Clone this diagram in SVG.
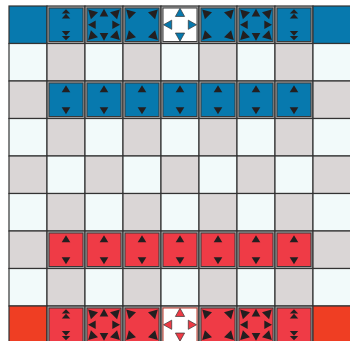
<svg xmlns="http://www.w3.org/2000/svg" xmlns:xlink="http://www.w3.org/1999/xlink" width="350" height="341" viewBox="0 0 350 341">
<style>
.lt{fill:#f2fafa;stroke:#333;stroke-width:1.2}
.gy{fill:#dad6d6;stroke:#333;stroke-width:1.2}
.pc{fill:#b3b3b3;stroke:#333;stroke-width:1.2}
.cb{fill:#0779ae;stroke:#333;stroke-width:1.2}
.cr{fill:#ef3e23;stroke:#333;stroke-width:1.2}
.pb{fill:#0779ae;stroke:#3a3a3a;stroke-width:1}
.pr{fill:#ef3b46;stroke:#3a3a3a;stroke-width:1}
.pw{fill:#ffffff;stroke:#3a3a3a;stroke-width:1}
.pwr{fill:#ffffff;stroke:#c0392b;stroke-width:1}
.ic{fill:#231f20}
.tb{fill:#0779ae;stroke:#333;stroke-width:0.7}
.tr{fill:#ef3b46;stroke:#333;stroke-width:0.7}
</style>
<defs>
<g id="ud" class="ic"><polygon points="0,-14.5 -4.3,-7.5 4.3,-7.5"/><polygon points="0,14.5 -4.3,7.5 4.3,7.5"/></g>
<g id="dbl" class="ic"><polygon points="0,-15.5 -4.2,-11.2 4.2,-11.2"/><polygon points="0,-11 -4.2,-6.3 4.2,-6.3"/><polygon points="0,15.5 -4.2,11.2 4.2,11.2"/><polygon points="0,11 -4.2,6.3 4.2,6.3"/></g>
<g id="crn" class="ic"><polygon points="-15.8,-15.3 -6,-12.6 -13.1,-5.5"/><polygon points="15.8,-15.3 6,-12.6 13.1,-5.5"/><polygon points="-15.8,15.3 -6,12.6 -13.1,5.5"/><polygon points="15.8,15.3 6,12.6 13.1,5.5"/></g>
<g id="edg" class="ic"><polygon points="0,-16 -4.3,-8.3 4.3,-8.3"/><polygon points="0,16 -4.3,8.3 4.3,8.3"/><polygon points="-16,0 -8.3,-4.3 -8.3,4.3"/><polygon points="16,0 8.3,-4.3 8.3,4.3"/></g>
<g id="eight"><use href="#crn"/><use href="#edg"/></g>
<g id="crs"><polygon points="0,-16.5 -4.6,-8.3 4.6,-8.3"/><polygon points="0,16.5 -4.6,8.3 4.6,8.3"/><polygon points="-16.5,0 -8.3,-4.6 -8.3,4.6"/><polygon points="16.5,0 8.3,-4.6 8.3,4.6"/></g>
<rect id="lt" class="lt" x="-19" y="-18.75" width="38" height="37.5"/>
<rect id="gy" class="gy" x="-19" y="-18.75" width="38" height="37.5"/>
<rect id="pc" class="pc" x="-19" y="-18.75" width="38" height="37.5"/>
<rect id="cb" class="cb" x="-19" y="-18.75" width="38" height="37.5"/>
<rect id="cr" class="cr" x="-19" y="-18.75" width="38" height="37.5"/>
<rect id="pb" class="pb" x="-17" y="-16.75" width="34" height="33.5"/>
<rect id="pr" class="pr" x="-17" y="-16.75" width="34" height="33.5"/>
<rect id="pw" class="pw" x="-17" y="-16.75" width="34" height="33.5"/>
<rect id="pwr" class="pwr" x="-17" y="-16.75" width="34" height="33.5"/>
</defs>
<rect width="350" height="341" fill="#ffffff"/>
<!-- row 0 (blue back rank) -->
<g id="r0c0" transform="translate(28,24.75)"><use href="#cb"/></g>
<g id="r0c1" transform="translate(66,24.75)"><use href="#pc"/><use href="#pb"/><use href="#dbl"/></g>
<g id="r0c2" transform="translate(104,24.75)"><use href="#pc"/><use href="#pb"/><use href="#eight"/></g>
<g id="r0c3" transform="translate(142,24.75)"><use href="#pc"/><use href="#pb"/><use href="#crn"/></g>
<g id="r0c4" transform="translate(180,24.75)"><use href="#pc"/><use href="#pw"/><use href="#crs" class="tb"/></g>
<g id="r0c5" transform="translate(218,24.75)"><use href="#pc"/><use href="#pb"/><use href="#crn"/></g>
<g id="r0c6" transform="translate(256,24.75)"><use href="#pc"/><use href="#pb"/><use href="#eight"/></g>
<g id="r0c7" transform="translate(294,24.75)"><use href="#pc"/><use href="#pb"/><use href="#dbl"/></g>
<g id="r0c8" transform="translate(332,24.75)"><use href="#cb"/></g>
<!-- row 1 -->
<g id="r1" transform="translate(0,62.25)">
<use href="#lt" x="28"/><use href="#gy" x="66"/><use href="#lt" x="104"/><use href="#gy" x="142"/><use href="#lt" x="180"/><use href="#gy" x="218"/><use href="#lt" x="256"/><use href="#gy" x="294"/><use href="#lt" x="332"/>
</g>
<!-- row 2 (blue pieces) -->
<g id="r2c0" transform="translate(28,99.75)"><use href="#gy"/></g>
<g id="r2c1" transform="translate(66,99.75)"><use href="#pc"/><use href="#pb"/><use href="#ud"/></g>
<g id="r2c2" transform="translate(104,99.75)"><use href="#pc"/><use href="#pb"/><use href="#ud"/></g>
<g id="r2c3" transform="translate(142,99.75)"><use href="#pc"/><use href="#pb"/><use href="#ud"/></g>
<g id="r2c4" transform="translate(180,99.75)"><use href="#pc"/><use href="#pb"/><use href="#ud"/></g>
<g id="r2c5" transform="translate(218,99.75)"><use href="#pc"/><use href="#pb"/><use href="#ud"/></g>
<g id="r2c6" transform="translate(256,99.75)"><use href="#pc"/><use href="#pb"/><use href="#ud"/></g>
<g id="r2c7" transform="translate(294,99.75)"><use href="#pc"/><use href="#pb"/><use href="#ud"/></g>
<g id="r2c8" transform="translate(332,99.75)"><use href="#gy"/></g>
<!-- rows 3-5 -->
<g id="r3" transform="translate(0,137.25)">
<use href="#lt" x="28"/><use href="#gy" x="66"/><use href="#lt" x="104"/><use href="#gy" x="142"/><use href="#lt" x="180"/><use href="#gy" x="218"/><use href="#lt" x="256"/><use href="#gy" x="294"/><use href="#lt" x="332"/>
</g>
<g id="r4" transform="translate(0,174.75)">
<use href="#gy" x="28"/><use href="#lt" x="66"/><use href="#gy" x="104"/><use href="#lt" x="142"/><use href="#gy" x="180"/><use href="#lt" x="218"/><use href="#gy" x="256"/><use href="#lt" x="294"/><use href="#gy" x="332"/>
</g>
<g id="r5" transform="translate(0,212.25)">
<use href="#lt" x="28"/><use href="#gy" x="66"/><use href="#lt" x="104"/><use href="#gy" x="142"/><use href="#lt" x="180"/><use href="#gy" x="218"/><use href="#lt" x="256"/><use href="#gy" x="294"/><use href="#lt" x="332"/>
</g>
<!-- row 6 (red pieces) -->
<g id="r6c0" transform="translate(28,249.75)"><use href="#gy"/></g>
<g id="r6c1" transform="translate(66,249.75)"><use href="#pc"/><use href="#pr"/><use href="#ud"/></g>
<g id="r6c2" transform="translate(104,249.75)"><use href="#pc"/><use href="#pr"/><use href="#ud"/></g>
<g id="r6c3" transform="translate(142,249.75)"><use href="#pc"/><use href="#pr"/><use href="#ud"/></g>
<g id="r6c4" transform="translate(180,249.75)"><use href="#pc"/><use href="#pr"/><use href="#ud"/></g>
<g id="r6c5" transform="translate(218,249.75)"><use href="#pc"/><use href="#pr"/><use href="#ud"/></g>
<g id="r6c6" transform="translate(256,249.75)"><use href="#pc"/><use href="#pr"/><use href="#ud"/></g>
<g id="r6c7" transform="translate(294,249.75)"><use href="#pc"/><use href="#pr"/><use href="#ud"/></g>
<g id="r6c8" transform="translate(332,249.75)"><use href="#gy"/></g>
<!-- row 7 -->
<g id="r7" transform="translate(0,287.25)">
<use href="#lt" x="28"/><use href="#gy" x="66"/><use href="#lt" x="104"/><use href="#gy" x="142"/><use href="#lt" x="180"/><use href="#gy" x="218"/><use href="#lt" x="256"/><use href="#gy" x="294"/><use href="#lt" x="332"/>
</g>
<!-- row 8 (red back rank) -->
<g id="r8c0" transform="translate(28,324.75)"><use href="#cr"/></g>
<g id="r8c1" transform="translate(66,324.75)"><use href="#pc"/><use href="#pr"/><use href="#dbl"/></g>
<g id="r8c2" transform="translate(104,324.75)"><use href="#pc"/><use href="#pr"/><use href="#eight"/></g>
<g id="r8c3" transform="translate(142,324.75)"><use href="#pc"/><use href="#pr"/><use href="#crn"/></g>
<g id="r8c4" transform="translate(180,324.75)"><use href="#pc"/><use href="#pwr"/><use href="#crs" class="tr"/></g>
<g id="r8c5" transform="translate(218,324.75)"><use href="#pc"/><use href="#pr"/><use href="#crn"/></g>
<g id="r8c6" transform="translate(256,324.75)"><use href="#pc"/><use href="#pr"/><use href="#eight"/></g>
<g id="r8c7" transform="translate(294,324.75)"><use href="#pc"/><use href="#pr"/><use href="#dbl"/></g>
<g id="r8c8" transform="translate(332,324.75)"><use href="#cr"/></g>
<g id="connectors"/>
</svg>
